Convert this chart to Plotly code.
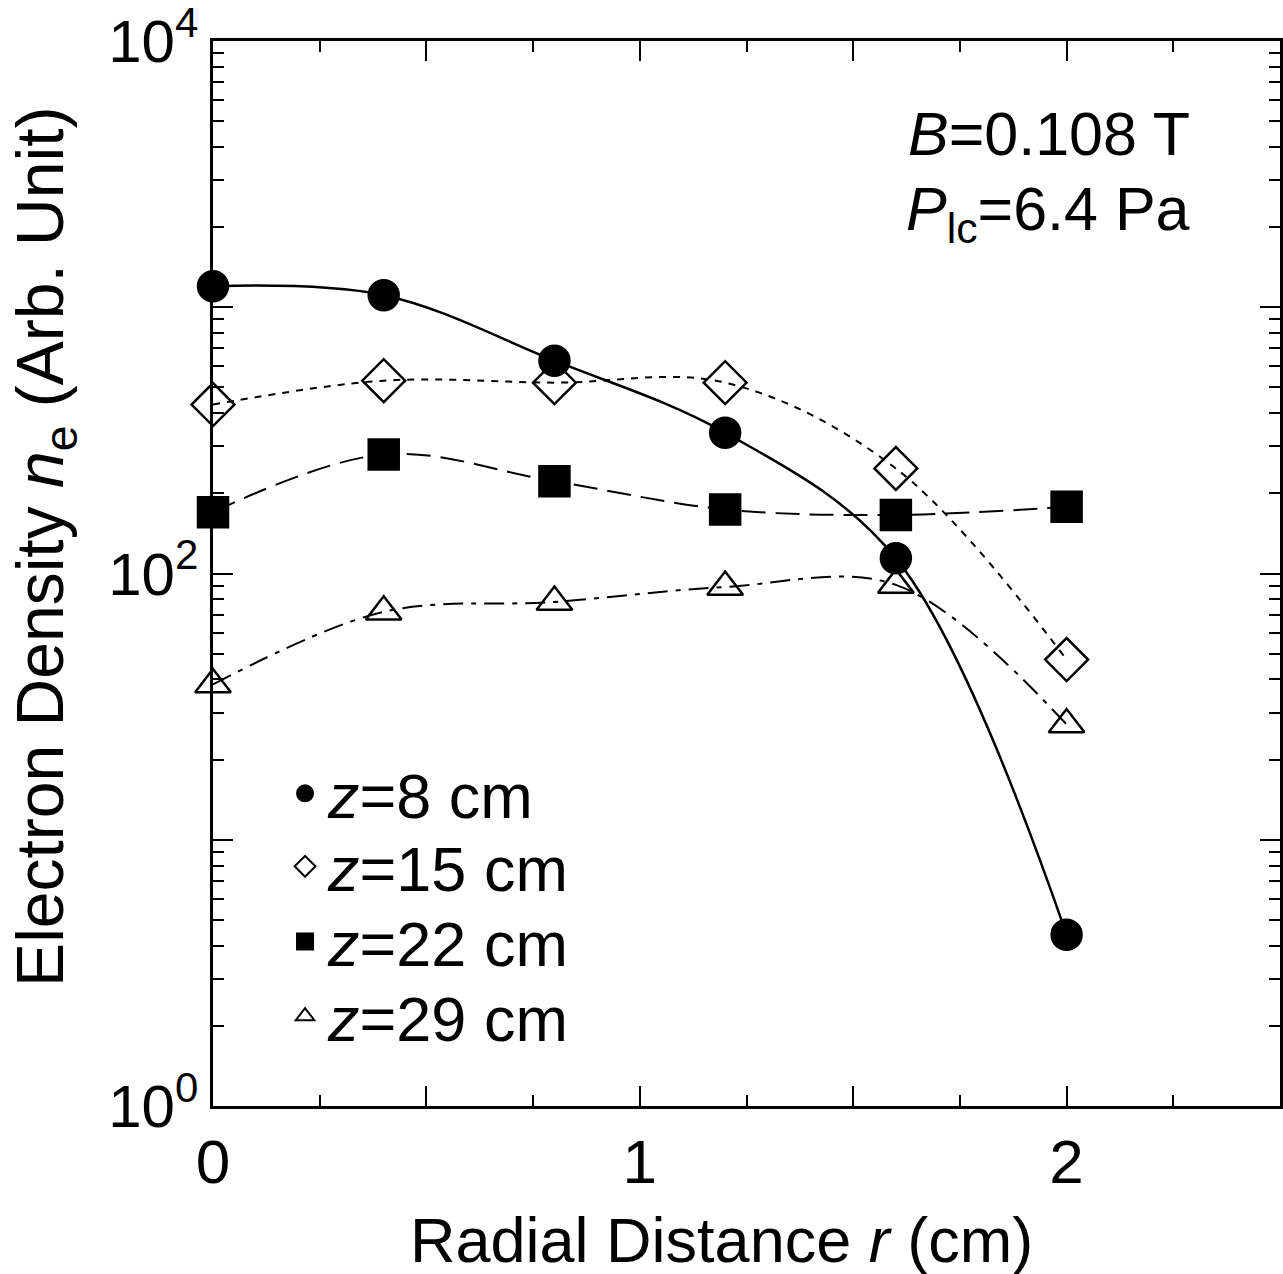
import plotly.graph_objects as go

# ---- data ----
r_cm = [0.0, 0.4, 0.8, 1.2, 1.6, 2.0]
ne_z8 = [1200, 1110, 630, 338, 114, 4.4]
ne_z15 = [431, 530, 521, 521, 248, 47.5]
ne_z22 = [170, 280, 222, 174, 166, 178]
ne_z29 = [38.3, 71.8, 78.2, 89, 90.6, 27.1]
series_labels = ["<i>z</i>=8 cm", "<i>z</i>=15 cm", "<i>z</i>=22 cm", "<i>z</i>=29 cm"]

x_tickvals = [0, 0.5, 1, 1.5, 2, 2.5]
x_ticktext = ["0", "", "1", "", "2", ""]
y_tickvals = [1, 10, 100, 1000, 10000]
y_ticktext = ["10<sup>0</sup>", "", "10<sup>2</sup>", "", "10<sup>4</sup>"]

FONT = "Liberation Sans, Arial, Helvetica, sans-serif"
BLACK = "black"

series = [
    (ne_z8, series_labels[0], "circle", 30, "solid", 2.5),
    (ne_z15, series_labels[1], "diamond-open", 33, "7px,7px", 2.0),
    (ne_z22, series_labels[2], "square", 30, "24px,10px", 2.0),
    (ne_z29, series_labels[3], "triangle-up-open", 31, "20px,8px,5px,8px", 2.0),
]
legend_ids = ["legend", "legend2", "legend3", "legend4"]
legend_rows_y = [0.2935, 0.225, 0.1545, 0.0843]

fig = go.Figure()
for vals, name, sym, size, dash, lw in series:
    fig.add_trace(go.Scatter(
        x=r_cm, y=vals, mode="lines+markers", showlegend=False,
        line=dict(color=BLACK, width=lw, dash=dash, shape="spline", smoothing=1.0),
        marker=dict(symbol=sym, size=size, color=BLACK,
                    line=dict(color=BLACK, width=2.5)),
        cliponaxis=False,
    ))
# legend-only entries (markers only), one legend box per row
for (vals, name, sym, size, dash, lw), lid in zip(series, legend_ids):
    fig.add_trace(go.Scatter(
        x=[None], y=[None], mode="markers", name=name, showlegend=True,
        legend=lid,
        marker=dict(symbol=sym, size=size, color=BLACK,
                    line=dict(color=BLACK, width=2)),
    ))

minor_y = [m * 10 ** d for d in range(0, 4) for m in range(2, 10)]

legend_common = dict(
    x=0.0647, xanchor="left", yanchor="middle",
    bgcolor="rgba(0,0,0,0)", borderwidth=0,
    font=dict(family=FONT, size=63, color=BLACK),
    itemsizing="trace", itemwidth=36,
)

layout_legends = {}
for lid, yy in zip(legend_ids, legend_rows_y):
    layout_legends[lid] = dict(legend_common, y=yy)

fig.update_layout(
    width=1283, height=1274,
    margin=dict(l=213, r=3, t=41, b=168, autoexpand=False),
    paper_bgcolor="white", plot_bgcolor="white",
    font=dict(family=FONT, size=60, color=BLACK),
    showlegend=True,
    xaxis=dict(
        range=[0, 2.5], showgrid=False, zeroline=False, automargin=False,
        showline=True, linecolor=BLACK, linewidth=2.5, mirror="ticks",
        ticks="inside", ticklen=20, tickwidth=2, tickcolor=BLACK,
        tickvals=x_tickvals, ticktext=x_ticktext,
        tickfont=dict(family=FONT, size=62, color=BLACK),
        ticklabeloverflow="allow",
        minor=dict(tickvals=[0.25, 0.75, 1.25, 1.75, 2.25], ticks="inside",
                   ticklen=11, tickwidth=2, tickcolor=BLACK, showgrid=False),
    ),
    yaxis=dict(
        type="log", range=[0, 4], showgrid=False, zeroline=False, automargin=False,
        showline=True, linecolor=BLACK, linewidth=2.5, mirror="ticks",
        ticks="inside", ticklen=20, tickwidth=2, tickcolor=BLACK,
        tickvals=y_tickvals, ticktext=y_ticktext,
        tickfont=dict(family=FONT, size=60, color=BLACK),
        ticklabeloverflow="allow",
        minor=dict(tickvals=minor_y, ticks="inside", ticklen=11,
                   tickwidth=2, tickcolor=BLACK, showgrid=False),
    ),
    annotations=[
        dict(text="Radial Distance <i>r</i> (cm)", xref="paper", yref="paper",
             x=0.477, y=0, yshift=-134, xanchor="center", yanchor="middle",
             showarrow=False, font=dict(family=FONT, size=63, color=BLACK)),
        dict(text="Electron Density <i>n</i><sub>e</sub> (Arb. Unit)",
             xref="paper", yref="paper", x=0, xshift=-168, y=0.525,
             xanchor="center", yanchor="middle", textangle=-90,
             showarrow=False, font=dict(family=FONT, size=66, color=BLACK)),
        dict(text="<i>B</i>=0.108 T", xref="paper", yref="paper",
             x=0.9175, y=0.913, xanchor="right", yanchor="middle",
             showarrow=False, font=dict(family=FONT, size=61, color=BLACK)),
        dict(text="<i>P</i><sub>lc</sub>=6.4 Pa", xref="paper", yref="paper",
             x=0.9175, y=0.838, xanchor="right", yanchor="middle",
             showarrow=False, font=dict(family=FONT, size=61, color=BLACK)),
    ],
    **layout_legends,
)

fig.write_html("out.html")
